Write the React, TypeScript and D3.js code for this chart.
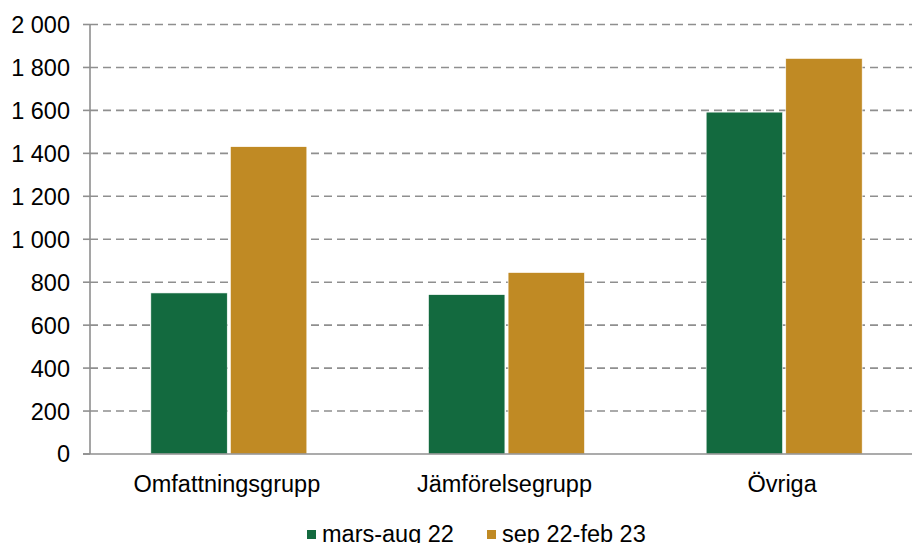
import React from "react";
import * as d3 from "d3";

const categories = ["Omfattningsgrupp", "Jämförelsegrupp", "Övriga"];
const seriesNames = ["mars-aug 22", "sep 22-feb 23"];
const marsAug22 = [750, 742, 1592];
const sep22Feb23 = [1431, 845, 1842];
const yTicks = [0, 200, 400, 600, 800, 1000, 1200, 1400, 1600, 1800, 2000];
const colors = ["#136a3f", "#c08a24"];

const W = 912;
const H = 543;
const margin = { left: 90, right: -11, top: 24.5, bottom: 89 };
const font = "'Liberation Sans', Arial, sans-serif";
const fontSize = 23.5;

const fmt = (v: number) => d3.format(",")(v).replace(/,/g, "\u00a0");

export default function App() {
  const series = [marsAug22, sep22Feb23];
  const x0 = d3
    .scaleBand<string>()
    .domain(categories)
    .range([margin.left, W - margin.right]);
  const bw = x0.bandwidth();
  const x1 = d3
    .scaleBand<string>()
    .domain(seriesNames)
    .range([bw / 2 - 78, bw / 2 + 78])
    .paddingInner(0.04);
  const y = d3
    .scaleLinear()
    .domain([0, 2000])
    .range([H - margin.bottom, margin.top]);

  const axisColor = "#8f8f8f";

  return (
    <svg
      width={W}
      height={H}
      style={{ position: "absolute", left: 0, top: 0, background: "#fff" }}
    >
      {/* gridlines */}
      {yTicks
        .filter((t) => t > 0)
        .map((t) => (
          <line
            key={"g" + t}
            x1={margin.left}
            x2={W}
            y1={y(t)}
            y2={y(t)}
            stroke={axisColor}
            strokeWidth={1.6}
            strokeDasharray="8,5"
          />
        ))}
      {/* bars */}
      {categories.map((c, i) => (
        <g key={c} transform={`translate(${x0(c)},0)`}>
          {series.map((s, j) => (
            <rect
              key={j}
              x={x1(seriesNames[j])}
              width={x1.bandwidth()}
              y={y(s[i])}
              height={y(0) - y(s[i])}
              fill={colors[j]}
              stroke="#ffffff"
              strokeWidth={0.6}
            />
          ))}
        </g>
      ))}
      {/* y axis */}
      <line
        x1={margin.left}
        x2={margin.left}
        y1={y(2000)}
        y2={y(0)}
        stroke={axisColor}
        strokeWidth={1.6}
      />
      {yTicks.map((t) => (
        <g key={"t" + t}>
          <line
            x1={margin.left - 7}
            x2={margin.left}
            y1={y(t)}
            y2={y(t)}
            stroke={axisColor}
            strokeWidth={1.6}
          />
          <text
            x={70}
            y={y(t)}
            dy="0.36em"
            textAnchor="end"
            fontFamily={font}
            fontSize={fontSize}
            fill="#000"
          >
            {fmt(t)}
          </text>
        </g>
      ))}
      {/* x axis */}
      <line
        x1={margin.left - 7}
        x2={W}
        y1={y(0)}
        y2={y(0)}
        stroke={axisColor}
        strokeWidth={1.6}
      />
      {categories.map((c) => (
        <text
          key={"c" + c}
          x={(x0(c) as number) + bw / 2 - 2}
          y={491.5}
          textAnchor="middle"
          fontFamily={font}
          fontSize={fontSize}
          fill="#000"
        >
          {c}
        </text>
      ))}
      {/* legend */}
      {seriesNames.map((n, j) => {
        const lx = [307, 487][j];
        return (
          <g key={"l" + n}>
            <rect x={lx} y={530} width={9} height={9} fill={colors[j]} />
            <text
              x={lx + 15}
              y={542}
              fontFamily={font}
              fontSize={fontSize}
              fill="#000"
            >
              {n}
            </text>
          </g>
        );
      })}
    </svg>
  );
}
